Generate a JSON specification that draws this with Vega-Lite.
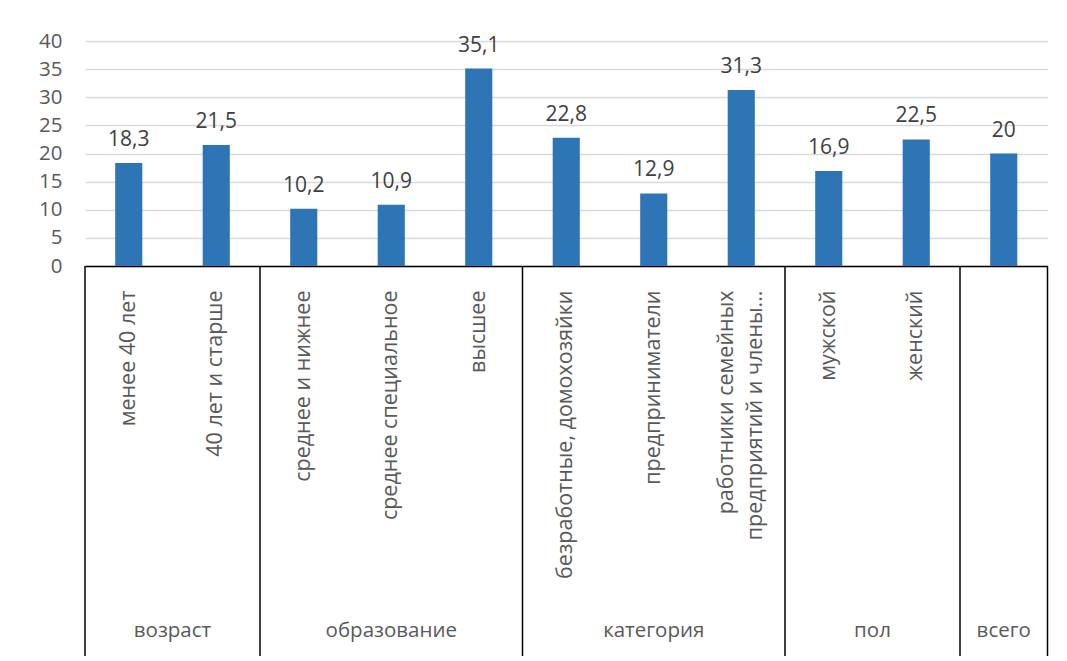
{
  "$schema": "https://vega.github.io/schema/vega-lite/v6.json",
  "background": "white",
  "padding": {"left": 38, "top": 31, "right": 10, "bottom": 5},
  "bounds": "flush",
  "spacing": 0,
  "config": {
    "view": {"stroke": null},
    "font": "Open Sans",
    "locale": {
      "number": {"decimal": ",", "thousands": " ", "grouping": [3], "currency": ["", ""]}
    }
  },
  "data": {
    "values": [
      {"group": "возраст", "name": "менее 40 лет", "value": 18.3},
      {"group": "возраст", "name": "40 лет и старше", "value": 21.5},
      {"group": "образование", "name": "среднее и нижнее", "value": 10.2},
      {"group": "образование", "name": "среднее специальное", "value": 10.9},
      {"group": "образование", "name": "высшее", "value": 35.1},
      {"group": "категория", "name": "безработные, домохозяйки", "value": 22.8},
      {"group": "категория", "name": "предприниматели", "value": 12.9},
      {"group": "категория", "name": "работники семейных предприятий и члены...", "value": 31.3},
      {"group": "пол", "name": "мужской", "value": 16.9},
      {"group": "пол", "name": "женский", "value": 22.5},
      {"group": "всего", "name": "всего", "value": 20}
    ]
  },
  "vconcat": [
    {
      "width": 962.5,
      "height": 225,
      "encoding": {
        "x": {
          "field": "name",
          "type": "nominal",
          "sort": null,
          "scale": {"paddingInner": 0.69, "paddingOuter": 0.345},
          "axis": {
            "title": null,
            "domain": true,
            "domainColor": "#000000",
            "domainWidth": 1.5,
            "ticks": false,
            "labelAngle": 270,
            "labelAlign": "right",
            "labelBaseline": "middle",
            "labelPadding": 24,
            "labelFontSize": 21.5,
            "labelColor": "#595959",
            "labelLineHeight": 29,
            "labelLimit": 0,
            "labelOverlap": false,
            "labelOffset": {
              "condition": {"test": "datum.value == 'работники семейных предприятий и члены...'", "value": -14.5},
              "value": 0
            },
            "labelExpr": "datum.label == 'всего' ? '' : datum.label == 'работники семейных предприятий и члены...' ? ['работники семейных', 'предприятий и члены...'] : datum.label"
          }
        },
        "y": {
          "field": "value",
          "type": "quantitative",
          "scale": {"domain": [0, 40]},
          "axis": {
            "title": null,
            "values": [0, 5, 10, 15, 20, 25, 30, 35, 40],
            "labelOverlap": false,
            "domain": false,
            "ticks": false,
            "tickSize": 0,
            "labelPadding": 23,
            "labelFontSize": 20.5,
            "labelColor": "#595959",
            "gridColor": "#d9d9d9",
            "gridWidth": 1.5
          }
        }
      },
      "layer": [
        {
          "mark": {"type": "bar", "color": "#2e75b6"}
        },
        {
          "mark": {"type": "text", "baseline": "alphabetic", "dy": -17, "fontSize": 21, "color": "#404040"},
          "encoding": {
            "text": {"field": "value", "type": "quantitative", "format": ".3~g"}
          }
        }
      ]
    },
    {
      "width": 962.5,
      "height": 390,
      "transform": [
        {"window": [{"op": "row_number", "as": "pos"}], "groupby": ["group"]},
        {"joinaggregate": [{"op": "count", "as": "n"}], "groupby": ["group"]}
      ],
      "layer": [
        {
          "mark": {"type": "rule", "color": "#000000", "strokeWidth": 1.5},
          "encoding": {
            "x": {"field": "name", "type": "nominal", "sort": null, "bandPosition": 0, "scale": {"paddingInner": 0, "paddingOuter": 0}, "axis": null},
            "strokeOpacity": {"condition": {"test": "datum.pos == 1", "value": 1}, "value": 0}
          }
        },
        {
          "mark": {"type": "rule", "color": "#000000", "strokeWidth": 1.5},
          "encoding": {
            "x": {"field": "name", "type": "nominal", "sort": null, "bandPosition": 1},
            "strokeOpacity": {"condition": {"test": "datum.group == 'всего'", "value": 1}, "value": 0}
          }
        },
        {
          "mark": {"type": "text", "baseline": "alphabetic", "fontSize": 20.5, "color": "#595959"},
          "encoding": {
            "x": {"field": "name", "type": "nominal", "sort": null, "bandPosition": 0.5},
            "y": {"datum": 0.05, "type": "quantitative", "scale": {"domain": [0, 1]}, "axis": null},
            "text": {"condition": {"test": "datum.n % 2 == 1 && datum.pos == (datum.n + 1) / 2", "field": "group", "type": "nominal"}, "value": ""}
          }
        },
        {
          "mark": {"type": "text", "baseline": "alphabetic", "fontSize": 20.5, "color": "#595959"},
          "encoding": {
            "x": {"field": "name", "type": "nominal", "sort": null, "bandPosition": 1},
            "y": {"datum": 0.05, "type": "quantitative"},
            "text": {"condition": {"test": "datum.n % 2 == 0 && datum.pos == datum.n / 2", "field": "group", "type": "nominal"}, "value": ""}
          }
        }
      ]
    }
  ],
  "resolve": {"scale": {"x": "independent"}}
}
